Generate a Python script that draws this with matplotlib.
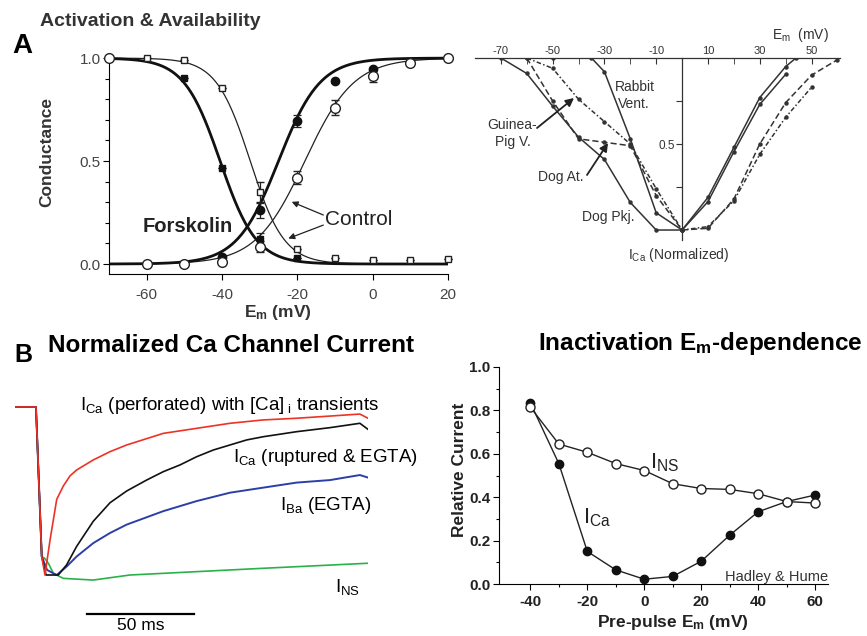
import matplotlib
matplotlib.use('Agg')
import matplotlib.pyplot as plt
import numpy as np

plt.rcParams['font.family'] = ['Liberation Sans', 'DejaVu Sans']
plt.rcParams['mathtext.fontset'] = 'custom'
plt.rcParams['mathtext.rm'] = 'Liberation Sans'
plt.rcParams['mathtext.it'] = 'Liberation Sans:italic'
plt.rcParams['mathtext.bf'] = 'Liberation Sans:bold'
plt.rcParams['axes.unicode_minus'] = False

W, H = 867, 636

# ---------------- data: A, activation & availability ----------------
em_act = [-60, -50, -40, -30, -20, -10, 0, 10, 20]
act_control = [0.0, 0.0, 0.01, 0.085, 0.42, 0.76, 0.915, 0.975, 1.0]
act_control_err = [0, 0, 0, 0.025, 0.03, 0.035, 0.03, 0, 0]
em_act_fsk = [-40, -30, -20, -10, 0]
act_forskolin = [0.035, 0.26, 0.695, 0.89, 0.945]
act_forskolin_err = [0, 0.035, 0.03, 0, 0]

em_avail = [-60, -50, -40, -30, -20, -10, 0, 10, 20]
avail_control = [1.0, 0.99, 0.855, 0.35, 0.075, 0.028, 0.02, 0.02, 0.025]
avail_control_err = [0, 0, 0, 0.05, 0, 0, 0, 0, 0]
em_avail_fsk = [-50, -40, -30, -20]
avail_forskolin = [0.905, 0.465, 0.12, 0.03]
avail_forskolin_err = [0, 0, 0.03, 0]
em_hold = [-70]
avail_hold = [1.0]

# Boltzmann fits (V1/2, slope k)
fit_act_control = (-18.0, 6.5)
fit_act_forskolin = (-25.0, 5.5)
fit_avail_control = (-32.5, 4.5)
fit_avail_forskolin = (-40.5, 4.8)

# ---------------- data: A, normalized I-V of species ----------------
iv_pkj_em = [-70, -60, -50, -40, -30, -20, -10, 0, 10, 20, 30, 40, 44]
iv_pkj = [0, -0.09, -0.28, -0.46, -0.59, -0.84, -1.0, -1.0, -0.81, -0.52, -0.23, -0.05, 0]
iv_rabbit_em = [-50, -35, -30, -20, -10, 0, 10, 20, 30, 40]
iv_rabbit = [0, 0, -0.08, -0.47, -0.90, -1.0, -0.835, -0.545, -0.27, -0.095]
iv_dogat_em = [-60, -50, -40, -30, -20, -10, 0, 10, 20, 30, 40, 50, 60]
iv_dogat = [0, -0.25, -0.47, -0.49, -0.51, -0.80, -1.0, -0.99, -0.82, -0.50, -0.26, -0.10, -0.01]
iv_gp_em = [-60, -50, -40, -30, -20, -10, 0, 10, 20, 30, 40, 50]
iv_gp = [0, -0.06, -0.24, -0.37, -0.50, -0.76, -1.0, -0.98, -0.83, -0.56, -0.345, -0.17]

# ---------------- data: B, current traces (ms, normalized) ----------------
red_t = [0, 9.8, 12.5, 14.0, 16.4, 19.5, 22.6, 25.7, 28.8, 36.6, 44.4, 52.2, 69.3, 84.9,
         100.5, 116, 131.6, 147.2, 161.2, 165]
red_v = [0, 0, -0.89, -1.0, -0.79, -0.55, -0.47, -0.41, -0.375, -0.315, -0.266, -0.226,
         -0.157, -0.127, -0.097, -0.077, -0.067, -0.054, -0.042, -0.067]
black_t = [0, 9.8, 12.5, 14.5, 20.2, 24.1, 28.8, 36.6, 44.4, 52.2, 61.5, 69.3, 77.1, 84.9,
           92.7, 100.5, 108.3, 116, 131.6, 147.2, 161.2, 165]
black_v = [0, 0, -0.89, -1.0, -1.0, -0.94, -0.83, -0.68, -0.57, -0.50, -0.435, -0.385, -0.345,
           -0.296, -0.256, -0.226, -0.196, -0.177, -0.147, -0.123, -0.097, -0.133]
blue_t = [0, 9.8, 12.5, 15, 19.5, 24.1, 28.8, 36.6, 44.4, 52.2, 69.3, 84.9, 100.5, 116,
          131.6, 147.2, 161.2, 165]
blue_v = [0, 0, -0.89, -0.97, -1.0, -0.95, -0.89, -0.81, -0.75, -0.70, -0.62, -0.56, -0.51,
          -0.48, -0.45, -0.435, -0.405, -0.42]
green_t = [0, 9.8, 12.5, 13.8, 15.6, 17.9, 22.6, 36.6, 53.7, 84.9, 116, 165]
green_v = [0, 0, -0.89, -0.90, -0.93, -0.99, -1.02, -1.03, -1.0, -0.98, -0.96, -0.93]
scale_bar_ms = 50

# ---------------- data: B, inactivation ----------------
pre_em = [-40, -30, -20, -10, 0, 10, 20, 30, 40, 50, 60]
rel_ica = [0.835, 0.555, 0.15, 0.065, 0.022, 0.035, 0.105, 0.225, 0.333, 0.38, 0.41]
rel_ins = [0.815, 0.645, 0.607, 0.555, 0.523, 0.462, 0.44, 0.436, 0.416, 0.38, 0.373]


def box(l, t, r, b):
    return [l / W, 1 - b / H, (r - l) / W, (b - t) / H]


def ftext(x, y, s, **kw):
    kw.setdefault('va', 'center')
    return fig.text(x / W, 1 - y / H, s, **kw)


def boltz(v, p, falling=False):
    v = np.asarray(v, dtype=float)
    half, k = p
    if falling:
        return 1 / (1 + np.exp((v - half) / k))
    return 1 / (1 + np.exp((half - v) / k))


fig = plt.figure(figsize=(W / 100, H / 100), dpi=100)

# ================= A left =================
ax = fig.add_axes(box(109, 55, 448, 274))
ax.set_xlim(-70, 20)
ax.set_ylim(-0.0485, 1.015)
for s in ['top', 'right']:
    ax.spines[s].set_visible(False)
vv = np.linspace(-70, 20, 300)
ax.plot(vv, boltz(vv, fit_act_control), color='#222', lw=0.9)
ax.plot(vv, boltz(vv, fit_avail_control, True), color='#222', lw=0.9)
ax.plot(vv, boltz(vv, fit_act_forskolin), color='#111', lw=2.0)
ax.plot(vv, boltz(vv, fit_avail_forskolin, True), color='#111', lw=2.0)

ekw = dict(ecolor='#222', elinewidth=0.9, capsize=3, capthick=0.9, clip_on=False, zorder=4)
ax.errorbar(em_avail, avail_control, yerr=avail_control_err, fmt='s', ms=5, mfc='white',
            mec='#222', mew=1.0, **ekw)
ax.errorbar(em_avail_fsk, avail_forskolin, yerr=avail_forskolin_err, fmt='s', ms=5, mfc='#111',
            mec='#111', **ekw)
ax.errorbar(em_act_fsk, act_forskolin, yerr=act_forskolin_err, fmt='o', ms=6, mfc='#111',
            mec='#111', **ekw)
ax.errorbar(em_act, act_control, yerr=act_control_err, fmt='o', ms=7, mfc='white',
            mec='#222', mew=1.0, **ekw)
ax.plot(em_hold, avail_hold, 'o', ms=7, mfc='white', mec='#222', mew=1.0, clip_on=False, zorder=5)

ax.set_xticks([-60, -40, -20, 0, 20])
ax.set_xticks([-70, -50, -30, -10, 10], minor=True)
ax.set_yticks([0, 0.5, 1.0])
ax.set_yticklabels(['0.0', '0.5', '1.0'])
ax.set_yticks(np.arange(0.1, 1.0, 0.1), minor=True)
ax.tick_params(which='major', length=4, width=0.8, labelsize=11, labelcolor='#444', pad=2)
ax.tick_params(axis='x', which='major', pad=6)
ax.tick_params(which='minor', length=3, width=0.8)
ax.tick_params(axis='x', which='minor', length=0)

ax.text(-61, 0.18, 'Forskolin', fontsize=14.5, fontweight='bold', color='#222', va='center')
ax.text(-12.7, 0.215, 'Control', fontsize=15, color='#222', va='center')
akw = dict(arrowstyle='-|>', color='#222', lw=0.9, mutation_scale=9, shrinkA=0, shrinkB=0)
ax.annotate('', xy=(-21.5, 0.302), xytext=(-13.1, 0.238), arrowprops=akw)
ax.annotate('', xy=(-22.4, 0.124), xytext=(-13.1, 0.189), arrowprops=akw)

ftext(40, 22, 'Activation & Availability', fontsize=14, fontweight='bold', color='#333')
ftext(12, 46, 'A', fontsize=20, fontweight='bold')
ftext(47, 152, 'Conductance', fontsize=12.5, fontweight='bold', rotation=90, ha='center', color='#333')
ftext(278, 312, r'$\mathbf{E_m}$ (mV)', fontsize=12.5, fontweight='bold', ha='center', color='#333')

# ================= A right =================
ax2 = fig.add_axes(box(475, 58, 840, 240))
ax2.set_xlim(-80, 61)
ax2.set_ylim(-1.058, 0)
ax2.patch.set_alpha(0)
ax2.spines['right'].set_visible(False)
ax2.spines['bottom'].set_visible(False)
ax2.spines['left'].set_position(('data', 0))
for s in ['top', 'left']:
    ax2.spines[s].set_linewidth(0.9)
    ax2.spines[s].set_color('#333')
ax2.xaxis.tick_top()
ax2.set_xticks([-70, -50, -30, -10, 10, 30, 50])
ax2.set_xticks([-60, -40, -20, 20, 40], minor=True)
ax2.tick_params(axis='x', which='both', direction='in', length=4, labelsize=8, labelcolor='#333',
                color='#333', pad=1.5)
ax2.set_yticks([-0.25, -0.5, -0.75])
ax2.set_yticklabels(['', '0.5', ''])
ax2.tick_params(axis='y', direction='out', length=4, labelsize=8.5, labelcolor='#333', color='#333', pad=1)

lkw = dict(color='#333', lw=1.1, marker='o', ms=2.2)
ax2.plot(iv_pkj_em, iv_pkj, ls='-', **lkw)
ax2.plot(iv_rabbit_em, iv_rabbit, ls='-', **lkw)
ax2.plot(iv_dogat_em, iv_dogat, ls=(0, (4, 2)), **lkw)
ax2.plot(iv_gp_em, iv_gp, ls=(0, (3, 1.5, 1, 1.5)), **lkw)

tk = dict(fontsize=10, color='#333')
ftext(772, 35, r'E$_{\rm m}$  (mV)', **tk)
ftext(615, 87, 'Rabbit', **tk)
ftext(618, 104, 'Vent.', **tk)
ftext(487, 125, 'Guinea-', **tk)
ftext(495, 142, 'Pig V.', **tk)
ftext(538, 177, 'Dog At.', **tk)
ftext(582, 217, 'Dog Pkj.', **tk)
ftext(628, 255, r'I$_{\rm Ca}$ (Normalized)', **tk)
fk = dict(arrowstyle='-|>', color='#222', lw=1.3, mutation_scale=12, shrinkA=0, shrinkB=0)
fig.add_artist(plt.matplotlib.patches.FancyArrowPatch((537 / W, 1 - 128 / H), (574 / W, 1 - 98 / H),
                                                      transform=fig.transFigure, **fk))
fig.add_artist(plt.matplotlib.patches.FancyArrowPatch((587 / W, 1 - 175 / H), (608 / W, 1 - 143 / H),
                                                      transform=fig.transFigure, **fk))

# ================= B left =================
ax3 = fig.add_axes(box(15, 395, 368, 636))
ax3.set_xlim(0, 165)
ax3.set_ylim(-1.363, 0.0714)
ax3.axis('off')
ax3.plot(green_t, green_v, color='#2bb14a', lw=1.2)
ax3.plot(blue_t, blue_v, color='#2b3fa6', lw=1.4)
ax3.plot(black_t, black_v, color='#111', lw=1.2)
ax3.plot(red_t, red_v, color='#ee3226', lw=1.2)
sb0 = 33.6
ax3.plot([sb0, sb0 + scale_bar_ms], [-1.232, -1.232], color='black', lw=1.6, clip_on=False)
ax3.text(sb0 + scale_bar_ms / 2, -1.30, f'{scale_bar_ms} ms', ha='center', va='center', fontsize=12.5,
         clip_on=False)

ftext(80, 405, r'I$_{\rm Ca}$ (perforated) with [Ca]$_{\rm\ i}$ transients', fontsize=13.5)
ftext(233, 458, r'I$_{\rm Ca}$ (ruptured & EGTA)', fontsize=13.5)
ftext(280, 506, r'I$_{\rm Ba}$ (EGTA)', fontsize=13.5)
ftext(335, 587, r'I$_{\rm NS}$', fontsize=13.5)
ftext(14, 355, 'B', fontsize=18, fontweight='bold')
ftext(48, 346, 'Normalized Ca Channel Current', fontsize=17.5, fontweight='bold')

# ================= B right =================
ax4 = fig.add_axes(box(499, 367, 828, 584))
ax4.set_xlim(-51, 64.5)
ax4.set_ylim(0, 1.0)
for s in ['top', 'right']:
    ax4.spines[s].set_visible(False)
ax4.plot(pre_em, rel_ica, '-o', color='#222', lw=1.0, ms=6, mfc='#111', mec='#111', clip_on=False)
ax4.plot(pre_em, rel_ins, '-o', color='#222', lw=1.0, ms=6.5, mfc='white', mec='#222', mew=1.0,
         clip_on=False)
ax4.set_xticks([-40, -20, 0, 20, 40, 60])
ax4.set_xticks([-30, -10, 10, 30, 50], minor=True)
ax4.set_yticks(np.arange(0, 1.01, 0.2))
ax4.set_yticklabels([f'{v:.1f}' for v in np.arange(0, 1.01, 0.2)])
ax4.set_yticks(np.arange(0.1, 1.0, 0.2), minor=True)
ax4.tick_params(which='major', length=4, width=0.8, labelsize=11, pad=2)
ax4.tick_params(axis='x', which='major', pad=4)
ax4.tick_params(which='minor', length=2.5, width=0.8)
for lab in ax4.get_xticklabels() + ax4.get_yticklabels():
    lab.set_fontweight('bold')
    lab.set_color('#222')

ftext(650, 463, r'I$_{\rm NS}$', fontsize=16, color='#222')
ftext(583, 518, r'I$_{\rm Ca}$', fontsize=16, color='#222')
ftext(828, 577, 'Hadley & Hume', fontsize=10.5, ha='right', color='#333')
ftext(538, 343, r'Inactivation E$_\mathbf{m}$-dependence', fontsize=17.5, fontweight='bold')
ftext(460, 470, 'Relative Current', fontsize=12.5, fontweight='bold', rotation=90, ha='center', color='#222')
ftext(673, 622, r'Pre-pulse $\mathbf{E_m}$ (mV)', fontsize=12.5, fontweight='bold', ha='center', color='#222')

fig.savefig('out.png', dpi=100)
